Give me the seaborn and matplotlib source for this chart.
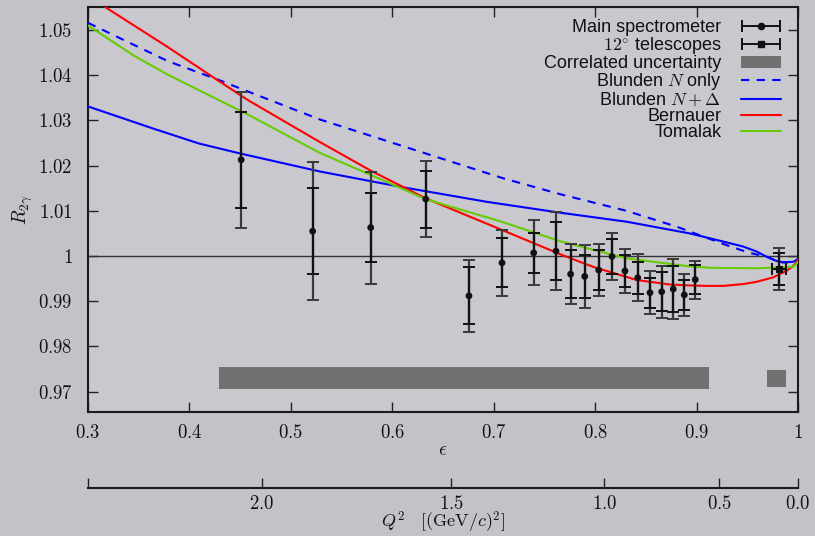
import numpy as np
import pandas as pd
import matplotlib
matplotlib.use("Agg")
import matplotlib.pyplot as plt
import seaborn as sns
from matplotlib.patches import Patch
from matplotlib.legend_handler import HandlerErrorbar
from matplotlib.ticker import FuncFormatter

# ---------------- data ----------------
main_eps = [0.451, 0.5215, 0.5787, 0.633, 0.6756, 0.7082, 0.7394, 0.7614, 0.7758, 0.7897,
            0.8035, 0.8166, 0.8294, 0.842, 0.8541, 0.8656, 0.877, 0.8879, 0.8987]
main_R = [1.0213, 1.0055, 1.0063, 1.0126, 0.9912, 0.9985, 1.0007, 1.0011, 0.9960, 0.9955,
          0.9969, 0.9999, 0.9967, 0.9952, 0.9919, 0.9921, 0.9927, 0.9914, 0.9948]
main_stat = [0.0106, 0.0095, 0.0077, 0.0063, 0.0063, 0.0054, 0.0045, 0.0064, 0.0053, 0.0047,
             0.0044, 0.0039, 0.0035, 0.0035, 0.0033, 0.0043, 0.0050, 0.0033, 0.0032]
main_tot = [0.0151, 0.0152, 0.0124, 0.0084, 0.0080, 0.0073, 0.0072, 0.0086, 0.0066, 0.0069,
            0.0058, 0.0051, 0.0048, 0.0052, 0.0048, 0.0057, 0.0066, 0.0047, 0.0042]

tel_eps = [0.9816]
tel_R = [0.9971]
tel_xerr = [0.0069]
tel_stat = [0.0035]
tel_tot = [0.0046]

corr_lo = [0.429, 0.9694]
corr_hi = [0.912, 0.9882]
corr_center = [0.9730, 0.9730]
corr_half = [0.0024, 0.0019]

bern_eps = [0.3168, 0.3789, 0.4285, 0.4577, 0.5288, 0.5787, 0.6326, 0.7078, 0.77, 0.7982,
            0.841, 0.8738, 0.8935, 0.91, 0.9264, 0.946, 0.9592, 0.9757, 0.9888, 0.9954,
            0.9986, 1.0]
bern_R = [1.0551, 1.0462, 1.0388, 1.0345, 1.0252, 1.0189, 1.0128, 1.0058, 1.0000, 0.9976,
          0.9947, 0.9937, 0.9935, 0.9934, 0.9934, 0.9938, 0.9943, 0.9953, 0.99675, 0.9978,
          0.9987, 0.9993]

toma_eps = [0.3, 0.3463, 0.3789, 0.4577, 0.5288, 0.5945, 0.6326, 0.7078, 0.7653, 0.831,
            0.8935, 0.9132, 0.9592, 0.9954, 1.0]
toma_R = [1.0510, 1.0442, 1.0401, 1.0313, 1.0228, 1.0164, 1.0126, 1.0076, 1.0033, 0.9995,
          0.9977, 0.9974, 0.9973, 0.9976, 0.9987]

blD_eps = [0.3, 0.3657, 0.4094, 0.4499, 0.5288, 0.6109, 0.6931, 0.7653, 0.831, 0.8935,
           0.9264, 0.946, 0.9592, 0.9691, 0.979, 0.9855, 0.9954, 1.0]
blD_R = [1.0331, 1.0281, 1.0249, 1.0227, 1.0187, 1.0152, 1.0120, 1.0096, 1.0076, 1.0050,
         1.0032, 1.0021, 1.0010, 0.99985, 0.9989, 0.9986, 0.99874, 0.9993]

blN_eps = [0.3, 0.3789, 0.4285, 0.4577, 0.5288, 0.6273, 0.7094, 0.7653, 0.831, 0.8804,
           0.9297, 0.936, 0.9525, 0.9691, 0.979, 0.9855, 0.9954, 1.0]
blN_R = [1.0516, 1.0431, 1.0390, 1.0364, 1.0302, 1.0231, 1.0172, 1.0137, 1.0100, 1.0065,
         1.0024, 1.0019, 1.0007, 0.99985, 0.9989, 0.9986, 0.99874, 0.9993]

x_ticks = [0.3, 0.4, 0.5, 0.6, 0.7, 0.8, 0.9, 1.0]
y_ticks = [0.97, 0.98, 0.99, 1.0, 1.01, 1.02, 1.03, 1.04, 1.05]
q2_ticks = [0.0, 0.5, 1.0, 1.5, 2.0]
beam_E = 2.01      # GeV
m_p = 0.938272     # GeV

# ---------------- style ----------------
sns.set_theme(style="ticks")
plt.rcParams["font.family"] = ["Liberation Sans", "DejaVu Sans"]
plt.rcParams["mathtext.fontset"] = "cm"

FIG_BG = "#c3c2c7"
AX_BG = "#c9c8cf"
INK = "#111111"

fig = plt.figure(figsize=(8.15, 5.36), dpi=100, facecolor=FIG_BG)
ax = fig.add_axes([88 / 815, 1 - 412 / 536, 710 / 815, 405 / 536])
ax.set_facecolor(AX_BG)

# ---------------- curves ----------------
curves = [
    ("Blunden $N$ only", blN_eps, blN_R, "#0000ff", True),
    ("Blunden $N+\\Delta$", blD_eps, blD_R, "#0000ff", False),
    ("Bernauer", bern_eps, bern_R, "#ff0000", False),
    ("Tomalak", toma_eps, toma_R, "#66cc00", False),
]
line_handles = []
for lab, xs, ys, col, dashed in curves:
    df = pd.DataFrame({"eps": xs, "R": ys})
    n_before = len(ax.lines)
    sns.lineplot(data=df, x="eps", y="R", ax=ax, color=col, lw=1.5, sort=False,
                 estimator=None, zorder=3, legend=False)
    ln = ax.lines[n_before]
    if dashed:
        ln.set_dashes([4, 3.5])
    line_handles.append(ln)

ax.axhline(1.0, color="#333333", lw=1.0, zorder=2)

# correlated uncertainty bars
ax.bar(corr_lo, 2 * np.asarray(corr_half),
       width=np.subtract(corr_hi, corr_lo),
       bottom=np.subtract(corr_center, corr_half),
       align="edge", color="#717171", edgecolor="none", zorder=2)

# data points
eb_kw = dict(fmt="none", capsize=4.5, capthick=1.4, elinewidth=1.6, zorder=5)
ax.errorbar(main_eps, main_R, yerr=main_tot, ecolor="#3a3a3a", **eb_kw)
ax.errorbar(main_eps, main_R, yerr=main_stat, ecolor=INK, **eb_kw)
ax.errorbar(tel_eps, tel_R, yerr=tel_tot, ecolor="#3a3a3a", **eb_kw)
ax.errorbar(tel_eps, tel_R, yerr=tel_stat, xerr=tel_xerr, ecolor=INK, **eb_kw)
sns.scatterplot(x=main_eps, y=main_R, ax=ax, marker="o", s=24, color=INK,
                edgecolor="none", zorder=6, legend=False)
sns.scatterplot(x=tel_eps, y=tel_R, ax=ax, marker="s", s=24, color=INK,
                edgecolor="none", zorder=6, legend=False)

# ---------------- axes ----------------
ax.set_xlim(0.3, 1.0)
ax.set_ylim(0.9655, 1.0551)
ax.set_xticks(x_ticks)
ax.set_yticks(y_ticks)
fmt = FuncFormatter(lambda v, p: f"${v:g}$")
ax.xaxis.set_major_formatter(fmt)
ax.yaxis.set_major_formatter(fmt)
ax.tick_params(axis="both", direction="in", length=7.5, width=1.0, color="#222222",
               top=True, right=True, labelsize=13.5, labelcolor=INK)
ax.tick_params(axis="y", pad=11)
ax.tick_params(axis="x", pad=9)
for sp in ax.spines.values():
    sp.set_visible(True)
    sp.set_color("#1a1a1a")
    sp.set_linewidth(1.5)
ax.set_xlabel(r"$\epsilon$", fontsize=14, color=INK, labelpad=0)
ax.set_ylabel(r"$R_{2\gamma}$", fontsize=14, color=INK, labelpad=2)

# secondary Q^2 axis (kinematic relation at the beam energy)
theta = np.linspace(0.0, np.pi * 0.99, 4000)
s2 = np.sin(theta / 2) ** 2
Ep = beam_E / (1 + 2 * beam_E / m_p * s2)
Q2g = 4 * beam_E * Ep * s2
tau = Q2g / (4 * m_p ** 2)
epsg = 1 / (1 + 2 * (1 + tau) * np.tan(theta / 2) ** 2)
order = np.argsort(epsg)


def eps_to_q2(e):
    return np.interp(e, epsg[order], Q2g[order])


def q2_to_eps(q):
    return np.interp(q, Q2g, epsg)


sec = ax.secondary_xaxis(-76 / 405, functions=(eps_to_q2, q2_to_eps))
sec.set_xticks(q2_ticks)
sec.set_xticks([float(eps_to_q2(0.3))], minor=True)
sec.xaxis.set_major_formatter(FuncFormatter(lambda v, p: f"${v:.1f}$"))
sec.tick_params(axis="x", which="both", direction="in", length=7.5, width=1.0,
                color="#222222", labelsize=13.5, labelcolor=INK, pad=5)
sec.spines["bottom"].set_linewidth(1.5)
sec.spines["bottom"].set_color("#1a1a1a")
sec.set_xlabel(r"$Q^2\quad[(\mathrm{GeV}/c)^2]$", fontsize=13, color=INK, labelpad=-2.5)

# ---------------- legend ----------------
p_main = ax.errorbar([np.nan], [np.nan], xerr=[0.01], fmt="o", color=INK, ms=4.5,
                     capsize=4.5, elinewidth=1.4, capthick=1.4)
p_tel = ax.errorbar([np.nan], [np.nan], xerr=[0.01], fmt="s", color=INK, ms=4.5,
                    capsize=4.5, elinewidth=1.4, capthick=1.4)
p_corr = Patch(facecolor="#717171", edgecolor="none")
handles = [p_main, p_tel, p_corr] + line_handles
labels = ["Main spectrometer", r"$12^{\circ}$ telescopes", "Correlated uncertainty"] + \
         [c[0] for c in curves]
hm = {p_main: HandlerErrorbar(xerr_size=1.05), p_tel: HandlerErrorbar(xerr_size=1.05)}
leg = ax.legend(handles, labels, handler_map=hm, loc="upper right",
                bbox_to_anchor=(1 - 17 / 710, 1 - 12 / 405), bbox_transform=ax.transAxes,
                frameon=False, markerfirst=False, fontsize=13, handlelength=2.2,
                handletextpad=1.1, labelspacing=-0.05, borderpad=0, borderaxespad=0)
for t in leg.get_texts():
    t.set_color(INK)

fig.savefig("out.png", dpi=100, facecolor=FIG_BG)
